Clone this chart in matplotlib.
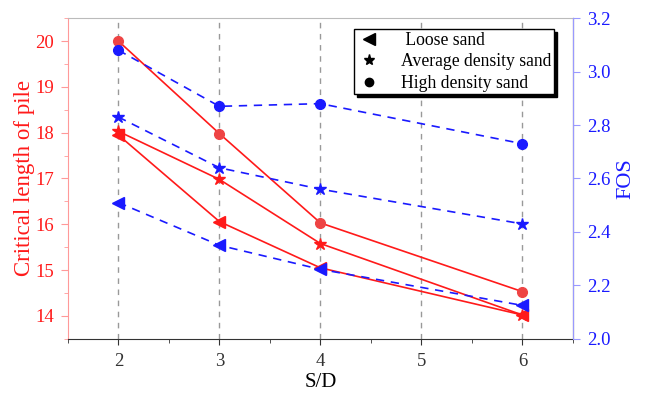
import numpy as np
import matplotlib
matplotlib.use('Agg')
import matplotlib.pyplot as plt
from matplotlib.ticker import MultipleLocator
from matplotlib.lines import Line2D

plt.rcParams['font.family'] = ['Liberation Serif', 'DejaVu Serif']
plt.rcParams['mathtext.fontset'] = 'stix'

# S/D ratios
sd = [2, 3, 4, 6]

# critical length of pile (left axis)
length_loose = [17.95, 16.06, 15.05, 14.02]
length_avg = [18.03, 16.98, 15.58, 14.02]
length_high = [20.0, 17.98, 16.03, 14.53]

# factor of safety (right axis)
fos_loose = [2.51, 2.35, 2.26, 2.125]
fos_avg = [2.83, 2.64, 2.56, 2.43]
fos_high = [3.08, 2.87, 2.88, 2.73]

labels = ['Loose sand', 'Average density sand', 'High density sand']
markers = ['<', '*', 'o']

fig = plt.figure(figsize=(6.46, 3.94), dpi=100)
ax = fig.add_axes([0.105, 0.14, 0.782, 0.814])
ax2 = ax.twinx()

red = '#ff1a1a'
blue = '#1a1aff'
sizes = {'<': 9, '*': 9, 'o': 7}

for y, m in zip([length_loose, length_avg, length_high], markers):
    mc = '#ee4444' if m == 'o' else red
    ax.plot(sd, y, color=red, lw=1.2, marker=m, ms=sizes[m],
            mfc=mc, mec=mc, zorder=3)

for y, m in zip([fos_loose, fos_avg, fos_high], markers):
    ax2.plot(sd, y, color=blue, lw=1.2, ls=(0, (5, 4)), marker=m,
             ms=sizes[m], mfc=blue, mec=blue, zorder=3)

ax.set_xlim(1.5, 6.5)
ax.set_ylim(13.5, 20.5)
ax2.set_ylim(2.0, 3.2)

ax.xaxis.set_major_locator(MultipleLocator(1))
ax.xaxis.set_minor_locator(MultipleLocator(0.5))
ax.yaxis.set_major_locator(MultipleLocator(1))
ax.yaxis.set_minor_locator(MultipleLocator(0.5))
ax2.yaxis.set_major_locator(MultipleLocator(0.2))

ax.set_xticks([2, 3, 4, 5, 6])
for xv in [2, 3, 4, 5, 6]:
    ax.axvline(xv, color='#999999', lw=1, ls=(0, (4, 4)), zorder=1)

ax.tick_params(axis='x', which='both', direction='out', labelsize=13.5,
               colors='#333333', pad=6)
ax.tick_params(axis='x', which='major', length=4)
ax.tick_params(axis='x', which='minor', length=3)
ax.tick_params(axis='y', which='both', direction='out', labelsize=13.5,
               colors='#ff9999', labelcolor=red, pad=5)
ax.tick_params(axis='y', which='major', length=5)
ax.tick_params(axis='y', which='minor', length=3)
ax2.tick_params(axis='y', direction='out', labelsize=13.5, colors='#9999ff',
                labelcolor=blue, length=5, pad=5)

ax.spines['left'].set_color('#ff9999')
ax.spines['top'].set_color('#bbbbbb')
ax.spines['bottom'].set_color('#333333')
ax2.spines['right'].set_color('#9999ff')
ax2.spines['left'].set_visible(False)
ax2.spines['top'].set_visible(False)
ax2.spines['bottom'].set_visible(False)

ax.set_xlabel('S/D', fontsize=15, labelpad=2)
ax.set_ylabel('Critical length of pile', fontsize=16.5, color=red, labelpad=0)
ax2.set_ylabel('FOS', fontsize=16, color=blue, labelpad=4)

handles = [Line2D([], [], ls='none', marker=m, color='black', ms=8 if m != 'o' else 6)
           for m in markers]
leg = ax2.legend(handles, [' ' + labels[0], labels[1], labels[2]],
                 loc='upper right', bbox_to_anchor=(0.962, 0.965),
                 fontsize=12.7, fancybox=False, shadow={'color': 'black', 'alpha': 1},
                 framealpha=1, edgecolor='black', handletextpad=1.1,
                 handlelength=1.4, labelspacing=0.25, borderpad=0.15,
                 borderaxespad=0)
leg.get_frame().set_linewidth(1.0)

fig.savefig('out.png', dpi=100)
